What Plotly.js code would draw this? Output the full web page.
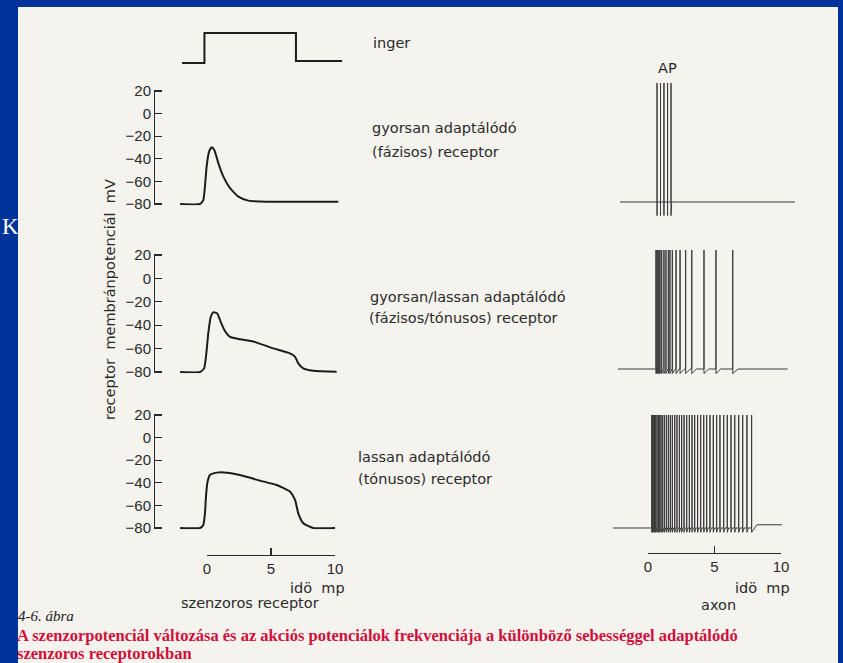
<!DOCTYPE html>
<html><head><meta charset="utf-8">
<script src="https://cdn.plot.ly/plotly-3.0.1.min.js"></script>
<style>html,body{margin:0;padding:0;background:#003399;overflow:hidden}#chart{width:843px;height:663px}</style>
</head><body><div id="chart"></div>
<script>
// ---------------- data ----------------
const stimT = [-1.95, -0.2, -0.2, 6.95, 6.95, 10.55];
const stimV = [0, 0, 1, 1, 0.07, 0.07];

const fastT = [-2.1, -0.55, -0.29, -0.16, -0.03, 0.16, 0.37, 0.57, 0.89, 1.28, 1.8, 2.45, 3.23, 4.66, 10.26];
const fastV = [-80, -80, -76.5, -64.5, -46.9, -33.7, -29.8, -32.2, -44, -55.8, -66, -73.5, -77, -78, -78];

const mixedT = [-2.1, -0.55, -0.23, -0.08, 0.1, 0.29, 0.49, 0.8, 1.1, 1.4, 1.8, 2.6, 3.62, 5.18, 6.48, 6.88, 7.13, 7.52, 8.3, 10.13];
const mixedV = [-80, -80, -76.9, -66.9, -47, -33, -29, -30, -38, -45, -50, -52, -54, -59.8, -64, -67, -72.6, -76.9, -78.9, -79.7];

const slowT = [-2.1, -0.55, -0.29, -0.16, -0.08, 0.02, 0.23, 0.76, 1.54, 2.58, 4.14, 5.45, 6.48, 6.88, 7.13, 7.52, 8.3, 10];
const slowV = [-80, -80, -77.3, -67, -52.3, -40.4, -33.1, -31, -31, -33.1, -38.1, -42, -47.8, -55.2, -67, -75.8, -80, -80];

const apFast = [0.68, 0.94, 1.20, 1.47, 1.73];
const apMixed = [0.60, 0.68, 0.75, 0.83, 0.90, 1.03, 1.20, 1.35, 1.53, 1.65, 1.83, 2.11, 2.41, 2.83, 3.29, 4.21, 5.11, 6.37];
const apSlow = [0.28, 0.35, 0.43, 0.50, 0.58, 0.68, 0.78, 0.88, 0.98, 1.10, 1.23, 1.38, 1.53, 1.68, 1.83, 2.01, 2.18, 2.36, 2.53, 2.71,
                2.91, 3.11, 3.31, 3.51, 3.73, 3.96, 4.19, 4.41, 4.66, 4.91, 5.16, 5.41, 5.69, 5.96, 6.24, 6.52, 6.82, 7.12, 7.44, 7.79];

const mvTicks = [20, 0, -20, -40, -60, -80];
const timeTicks = [0, 5, 10];

const labelsLeftCol = ["inger", "gyorsan adaptálódó", "(fázisos) receptor", "gyorsan/lassan adaptálódó", "(fázisos/tónusos) receptor", "lassan adaptálódó", "(tónusos) receptor"];
const yTitle = "receptor  membránpotenciál  mV";
const timeTitle = "idö  mp";
const colTitles = ["szenzoros receptor", "axon"];
const figNo = "4-6. ábra";
const captionLines = ["A szenzorpotenciál változása és az akciós potenciálok frekvenciája a különböző sebességgel adaptálódó", "szenzoros receptorokban"];

// ---------------- geometry helpers ----------------
const W = 843, H = 663;
const fx = p => p / W;
const fy = p => 1 - p / H;
function domainFor(v0, p0, v1, p1, rMin, rMax) {
  const f = v => p0 + (v - v0) * (p1 - p0) / (v1 - v0);
  return [fy(f(rMin)), fy(f(rMax))];
}
function rangeFor(t0, p0, t1, p1, pa, pb) {
  const g = p => t0 + (p - p0) * (t1 - t0) / (p1 - p0);
  return [g(pa), g(pb)];
}

function train(t0, t1, times, rest, peak, dip, recov, restAfter, recAfter) {
  const x = [t0], y = [rest];
  times.forEach((ts, i) => {
    x.push(ts, ts, ts); y.push(rest, peak, dip);
    const last = i === times.length - 1;
    if (last) { x.push(ts + recAfter); y.push(restAfter); }
    else if (recov === 0) { x.push(ts); y.push(rest); }
    else { const nx = times[i + 1]; x.push(ts + Math.min(recov, (nx - ts) * 0.8)); y.push(rest); }
  });
  x.push(t1); y.push(restAfter);
  return {x, y};
}

const ink = '#1c1c1c';
const numFont = {family: 'Liberation Sans Narrow, Liberation Sans, Arial, sans-serif', size: 15, color: '#2a2a2a'};
const txtFont = {family: 'DejaVu Sans, sans-serif', size: 14.5, color: '#2a2a2a'};

const recLine = {color: ink, width: 2, shape: 'spline', smoothing: 0.5, simplify: false};
const apLine = {color: '#3a3a3a', width: 1, simplify: false};

const r1 = train(-2.1, 11.05, apFast, -70, 35, -82, 0, -70, 0.05);
const r2 = train(-2.26, 10.5, apMixed, -70, 35, -74, 0.35, -70, 0.4);
const r3 = train(-2.63, 10.08, apSlow, -70, 35, -74, 0.1, -67, 0.4);

const base = {mode: 'lines', hoverinfo: 'skip', showlegend: false};
const traces = [
  Object.assign({x: stimT, y: stimV, xaxis: 'x', yaxis: 'y4', line: {color: ink, width: 2, simplify: false}}, base),
  Object.assign({x: fastT, y: fastV, xaxis: 'x', yaxis: 'y', line: recLine}, base),
  Object.assign({x: mixedT, y: mixedV, xaxis: 'x', yaxis: 'y2', line: recLine}, base),
  Object.assign({x: slowT, y: slowV, xaxis: 'x', yaxis: 'y3', line: recLine}, base),
  Object.assign({x: r1.x, y: r1.y, xaxis: 'x3', yaxis: 'y5', line: apLine}, base),
  Object.assign({x: r2.x, y: r2.y, xaxis: 'x3', yaxis: 'y6', line: apLine}, base),
  Object.assign({x: r3.x, y: r3.y, xaxis: 'x3', yaxis: 'y7', line: apLine}, base),
  Object.assign({x: [null], y: [null], xaxis: 'x2', yaxis: 'y3'}, base),
  Object.assign({x: [null], y: [null], xaxis: 'x4', yaxis: 'y7'}, base)
];

const mvAxis = (dom) => ({
  domain: dom, range: [-81, 21], anchor: 'free', position: fx(154), side: 'left',
  showline: true, linecolor: '#2a2a2a', linewidth: 1.3, ticks: 'inside', ticklen: 7,
  tickwidth: 1.3, tickcolor: '#2a2a2a', tickvals: mvTicks, tickfont: numFont,
  showgrid: false, zeroline: false, fixedrange: true
});
const hiddenY = (dom, rng) => ({domain: dom, range: rng, visible: false, fixedrange: true});
const timeAxis = (p0, p1, py) => ({
  domain: [fx(p0), fx(p1)], range: [0, 10], anchor: 'free', position: fy(py), side: 'bottom',
  showline: true, linecolor: '#2a2a2a', linewidth: 1.3, ticks: 'inside', ticklen: 7,
  tickwidth: 1.3, tickcolor: '#2a2a2a', tickvals: timeTicks, tickfont: numFont,
  showgrid: false, zeroline: false, fixedrange: true
});

function ann(text, px, py, opts) {
  return Object.assign({text: text, x: fx(px), y: fy(py), xref: 'paper', yref: 'paper',
    showarrow: false, xanchor: 'left', yanchor: 'middle', font: txtFont}, opts || {});
}

const capFont = {family: 'Liberation Serif, serif', size: 16.5, weight: 'bold', color: '#d0103a'};
const annotations = [
  ann(labelsLeftCol[0], 371, 43),
  ann(labelsLeftCol[1], 370, 128),
  ann(labelsLeftCol[2], 370, 152),
  ann(labelsLeftCol[3], 368, 297),
  ann(labelsLeftCol[4], 367, 318),
  ann(labelsLeftCol[5], 356, 457),
  ann(labelsLeftCol[6], 356, 479),
  ann("AP", 667, 68, {xanchor: 'center'}),
  ann(yTitle, 110, 300, {xanchor: 'center', textangle: -90}),
  ann(timeTitle, 317, 588, {xanchor: 'center'}),
  ann(timeTitle, 762, 588, {xanchor: 'center'}),
  ann(colTitles[0], 250, 603, {xanchor: 'center'}),
  ann(colTitles[1], 718, 605, {xanchor: 'center'}),
  ann(figNo, 17, 616, {font: {family: 'Liberation Serif, serif', size: 15, style: 'italic', color: '#222'}, borderpad: 0}),
  ann(captionLines[0], 16, 635, {font: capFont, borderpad: 0}),
  ann(captionLines[1], 16, 653.5, {font: capFont, borderpad: 0}),
  ann("K", 0, 226, {xanchor: 'left', font: {family: 'Liberation Serif, serif', size: 23, color: '#ffffff'}})
];

const layout = {
  width: W, height: H, margin: {l: 0, r: 0, t: 0, b: 0, pad: 0},
  paper_bgcolor: '#003399', plot_bgcolor: 'rgba(0,0,0,0)',
  showlegend: false, font: txtFont,
  xaxis: {domain: [fx(170), fx(350)], range: rangeFor(0, 207, 10, 335, 170, 350), visible: false, fixedrange: true, anchor: 'y3'},
  xaxis2: timeAxis(207, 335, 555),
  xaxis3: {domain: [fx(600), fx(810)], range: rangeFor(0, 648, 10, 781, 600, 810), visible: false, fixedrange: true, anchor: 'y7'},
  xaxis4: timeAxis(648, 781, 553),
  yaxis: mvAxis(domainFor(20, 91, -80, 204, -81, 21)),
  yaxis2: mvAxis(domainFor(20, 255, -80, 372, -81, 21)),
  yaxis3: mvAxis(domainFor(20, 415, -80, 528, -81, 21)),
  yaxis4: hiddenY(domainFor(1, 33, 0, 63, -0.3, 1.3), [-0.3, 1.3]),
  yaxis5: hiddenY(domainFor(35, 83, -70, 202, -90, 40), [-90, 40]),
  yaxis6: hiddenY(domainFor(35, 250, -70, 369, -90, 40), [-90, 40]),
  yaxis7: hiddenY(domainFor(35, 415, -70, 528, -90, 40), [-90, 40]),
  shapes: [{type: 'rect', xref: 'paper', yref: 'paper', x0: fx(18), x1: fx(838), y0: 0, y1: fy(7),
            fillcolor: '#f5f3ee', line: {width: 0}, layer: 'below'}],
  annotations: annotations
};

Plotly.newPlot('chart', traces, layout, {staticPlot: true, displayModeBar: false});
</script></body></html>
